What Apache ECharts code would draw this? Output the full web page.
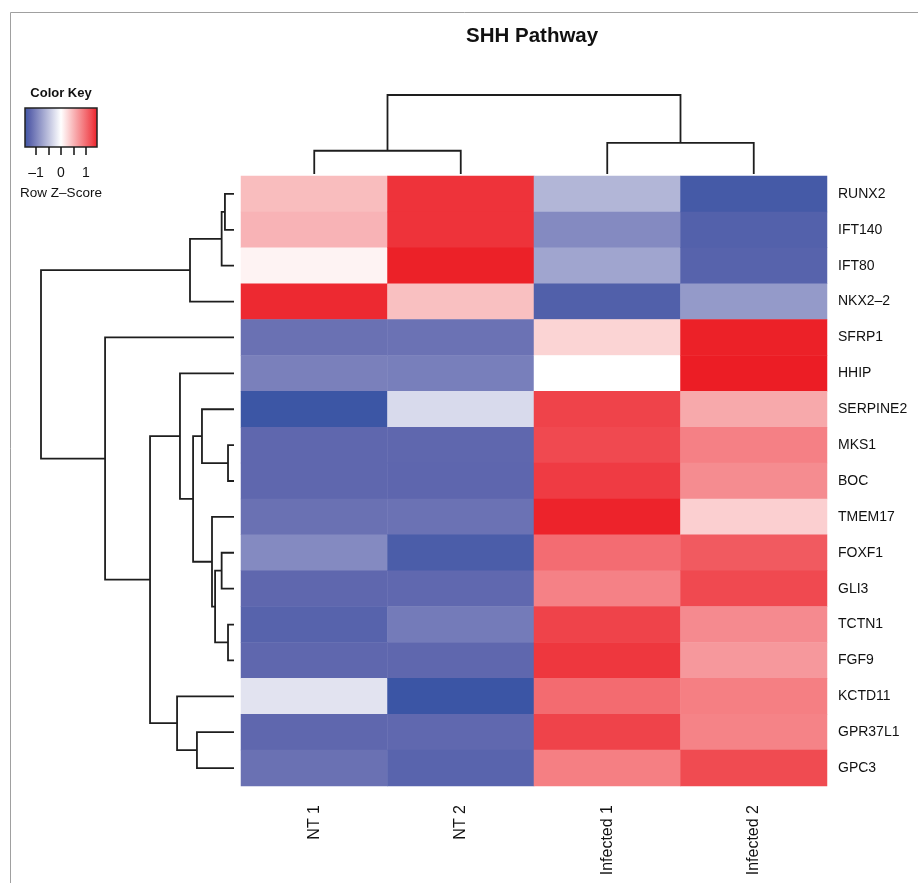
<!DOCTYPE html>
<html>
<head>
<meta charset="utf-8">
<script src="https://cdn.jsdelivr.net/npm/echarts@6/dist/echarts.min.js"></script>
<style>html,body{margin:0;padding:0;background:#fff}#c{width:918px;height:883px}</style>
</head>
<body>
<div id="c"></div>
<script>
// ---- data ----
var genes = ['RUNX2','IFT140','IFT80','NKX2\u20132','SFRP1','HHIP','SERPINE2','MKS1','BOC','TMEM17','FOXF1','GLI3','TCTN1','FGF9','KCTD11','GPR37L1','GPC3'];
var samples = ['NT 1','NT 2','Infected 1','Infected 2'];
// row z-scores per sample (rows in gene order above)
var nt1  = [0.44, 0.50, 0.08, 1.41, -1.12, -1.00, -1.49, -1.20, -1.20, -1.12, -0.92, -1.20, -1.27, -1.20, -0.22, -1.20, -1.12];
var nt2  = [1.35, 1.35, 1.47, 0.42, -1.11, -1.01, -0.29, -1.20, -1.21, -1.11, -1.37, -1.19, -1.04, -1.20, -1.50, -1.19, -1.25];
var inf1 = [-0.58, -0.92, -0.71, -1.32, 0.29, 0.00, 1.24, 1.20, 1.29, 1.45, 0.97, 0.83, 1.24, 1.32, 0.98, 1.24, 0.85];
var inf2 = [-1.42, -1.30, -1.27, -0.80, 1.47, 1.49, 0.57, 0.84, 0.76, 0.32, 1.09, 1.20, 0.77, 0.68, 0.85, 0.82, 1.19];
// row dendrogram (hclust style: negative = leaf index+1 in display order, positive = earlier merge number)
var rowMerge = [[-1,-2],[1,-3],[2,-4],[-8,-9],[-7,4],[-11,-12],[-13,-14],[6,7],[-10,8],[5,9],[-6,10],[-16,-17],[-15,12],[11,13],[-5,14],[3,15]];
var rowHeight = [0.47, 0.64, 2.28, 0.31, 1.66, 0.64, 0.31, 0.98, 1.14, 2.12, 2.80, 1.92, 2.95, 4.35, 6.68, 10];
// column dendrogram
var colMerge = [[-1,-2],[-3,-4],[1,2]];
var colHeight = [2.94, 3.95, 10];
// color key tick labels
var keyTicks = [-1, -0.5, 0, 0.5, 1];
var keyLabels = [-1, 0, 1];

// ---- colour scale (value -1.5 .. 1.5, evenly spaced stops) ----
var scaleMin = -1.5, scaleMax = 1.5;
var scaleColors = ['#3b55a5','#5f67ae','#878dc2','#afb3d6','#d7d9eb','#ffffff','#fbd2d3','#f7a4a7','#f4777c','#f04950','#ec1c24'];

function buildDendro(merge, height) {
  var pos = [], h = [], items = [];
  merge.forEach(function (m, k) {
    function info(a) { return a < 0 ? [(-a - 1) + 0.5, 0] : [pos[a - 1], h[a - 1]]; }
    var A = info(m[0]), B = info(m[1]);
    pos[k] = (A[0] + B[0]) / 2;
    h[k] = height[k];
    items.push([A[0], B[0], A[1], B[1], height[k]]);
  });
  return items;
}

var heatData = [];
var cols = [nt1, nt2, inf1, inf2];
cols.forEach(function (arr, c) { arr.forEach(function (v, r) { heatData.push([c, r, v]); }); });

function dendroRender(orient) {
  return function (params, api) {
    var pL = api.value(0), pR = api.value(1), hL = api.value(2), hR = api.value(3), h = api.value(4);
    var pts;
    if (orient === 'row') pts = [api.coord([hL, pL]), api.coord([h, pL]), api.coord([h, pR]), api.coord([hR, pR])];
    else pts = [api.coord([pL, hL]), api.coord([pL, h]), api.coord([pR, h]), api.coord([pR, hR])];
    return { type: 'polyline', shape: { points: pts }, style: { stroke: '#1e1e1e', lineWidth: 1.8, fill: 'none' } };
  };
}

var keyMin = -1.44, keyMax = 1.44;
var keyStops = scaleColors.map(function (col, i) {
  var v = scaleMin + (scaleMax - scaleMin) * i / (scaleColors.length - 1);
  var off = (v - keyMin) / (keyMax - keyMin);
  return { offset: Math.max(0, Math.min(1, off)), color: col };
});

var FONT = 'Liberation Sans, Arial, Helvetica, sans-serif';
var chart = echarts.init(document.getElementById('c'), null, { renderer: 'canvas' });
chart.setOption({
  backgroundColor: '#ffffff',
  animation: false,
  title: { text: 'SHH Pathway', left: 466, top: 26, padding: 0,
    textStyle: { fontFamily: FONT, fontSize: 20.5, fontWeight: 'bold', color: '#111' } },
  graphic: [
    { type: 'rect', silent: true, shape: { x: 10.5, y: 12.5, width: 1200, height: 1200 },
      style: { fill: 'none', stroke: '#a0a0a0', lineWidth: 1 } },
    { type: 'text', x: 61, y: 87, style: { text: 'Color Key', textAlign: 'center', textVerticalAlign: 'top',
      font: 'bold 13px ' + FONT, fill: '#111' } }
  ],
  visualMap: { type: 'continuous', show: false, min: scaleMin, max: scaleMax, seriesIndex: 0,
    inRange: { color: scaleColors } },
  grid: [
    { left: 241, top: 176, width: 586, height: 610, containLabel: false, outerBoundsMode: 'none' },
    { left: 41, top: 176, width: 193, height: 610, containLabel: false, outerBoundsMode: 'none' },
    { left: 241, top: 95, width: 586, height: 79, containLabel: false, outerBoundsMode: 'none' },
    { left: 25, top: 108, width: 72, height: 39, containLabel: false, outerBoundsMode: 'none', show: true,
      backgroundColor: new echarts.graphic.LinearGradient(0, 0, 1, 0, keyStops),
      borderColor: '#222', borderWidth: 1.5 }
  ],
  xAxis: [
    { type: 'category', gridIndex: 0, data: samples, position: 'bottom',
      axisLine: { show: false }, axisTick: { show: false }, splitLine: { show: false },
      axisLabel: { rotate: 90, margin: 19, fontSize: 16, fontFamily: FONT, color: '#111', interval: 0,
        padding: [0, 0, 10, 0] } },
    { type: 'value', gridIndex: 1, min: 0, max: 10, inverse: true, show: false },
    { type: 'value', gridIndex: 2, min: 0, max: 4, show: false },
    { type: 'value', gridIndex: 3, min: keyMin, max: keyMax, position: 'bottom',
      axisLine: { show: false }, splitLine: { show: false },
      axisTick: { show: true, length: 8, customValues: keyTicks, lineStyle: { color: '#111', width: 1.5 } },
      axisLabel: { show: true, customValues: keyLabels, margin: 19, fontSize: 14, fontFamily: FONT, color: '#111',
        formatter: function (v) { return v < 0 ? '\u2013' + Math.abs(v) : String(v); } },
      name: 'Row Z\u2013Score', nameLocation: 'middle', nameGap: 39,
      nameTextStyle: { fontSize: 13.5, fontFamily: FONT, color: '#111' } }
  ],
  yAxis: [
    { type: 'category', gridIndex: 0, data: genes, inverse: true, position: 'right',
      axisLine: { show: false }, axisTick: { show: false }, splitLine: { show: false },
      axisLabel: { margin: 11, fontSize: 14, fontFamily: FONT, color: '#111', interval: 0 } },
    { type: 'value', gridIndex: 1, min: 0, max: 17, inverse: true, show: false },
    { type: 'value', gridIndex: 2, min: 0, max: 10, show: false },
    { type: 'value', gridIndex: 3, min: 0, max: 1, show: false }
  ],
  series: [
    { type: 'heatmap', xAxisIndex: 0, yAxisIndex: 0, data: heatData, itemStyle: { borderWidth: 0 },
      emphasis: { disabled: true } },
    { type: 'custom', xAxisIndex: 1, yAxisIndex: 1, renderItem: dendroRender('row'),
      data: buildDendro(rowMerge, rowHeight), clip: false, silent: true },
    { type: 'custom', xAxisIndex: 2, yAxisIndex: 2, renderItem: dendroRender('col'),
      data: buildDendro(colMerge, colHeight), clip: false, silent: true },
    { type: 'scatter', xAxisIndex: 3, yAxisIndex: 3, data: [], silent: true }
  ]
});
</script>
</body>
</html>
